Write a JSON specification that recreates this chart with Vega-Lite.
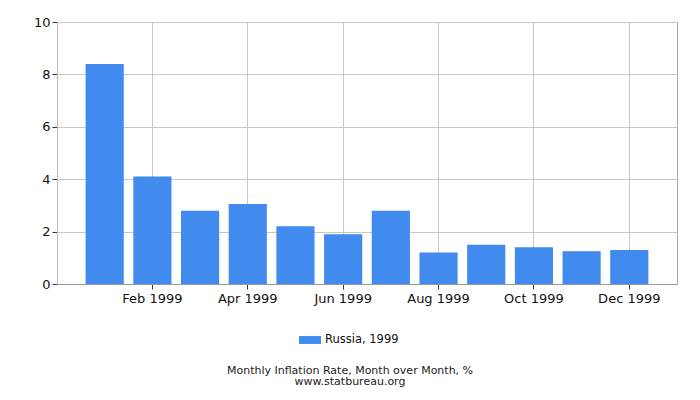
{
  "$schema": "https://vega.github.io/schema/vega-lite/v6.json",
  "width": 620,
  "height": 262,
  "autosize": {"type": "none"},
  "padding": {"left": 57, "top": 22, "right": 23, "bottom": 116},
  "background": "white",
  "data": {
    "values": [
      {"month": "Jan 1999", "rate": 8.4, "series": "Russia, 1999"},
      {"month": "Feb 1999", "rate": 4.1, "series": "Russia, 1999"},
      {"month": "Mar 1999", "rate": 2.8, "series": "Russia, 1999"},
      {"month": "Apr 1999", "rate": 3.05, "series": "Russia, 1999"},
      {"month": "May 1999", "rate": 2.2, "series": "Russia, 1999"},
      {"month": "Jun 1999", "rate": 1.9, "series": "Russia, 1999"},
      {"month": "Jul 1999", "rate": 2.8, "series": "Russia, 1999"},
      {"month": "Aug 1999", "rate": 1.2, "series": "Russia, 1999"},
      {"month": "Sep 1999", "rate": 1.5, "series": "Russia, 1999"},
      {"month": "Oct 1999", "rate": 1.4, "series": "Russia, 1999"},
      {"month": "Nov 1999", "rate": 1.25, "series": "Russia, 1999"},
      {"month": "Dec 1999", "rate": 1.3, "series": "Russia, 1999"}
    ]
  },
  "title": {
    "text": ["Monthly Inflation Rate, Month over Month, %", "www.statbureau.org"],
    "orient": "bottom",
    "anchor": "middle",
    "fontSize": 11,
    "fontWeight": "normal",
    "font": "DejaVu Sans",
    "color": "#222222",
    "lineHeight": 11,
    "offset": 19,
    "dx": -17
  },
  "mark": {"type": "bar"},
  "encoding": {
    "x": {
      "field": "month",
      "type": "nominal",
      "sort": null,
      "title": null,
      "scale": {"paddingInner": 0.2, "paddingOuter": 0.6},
      "axis": {
        "values": ["Feb 1999", "Apr 1999", "Jun 1999", "Aug 1999", "Oct 1999", "Dec 1999"],
        "bandPosition": 0.5,
        "labelAngle": 0,
        "grid": true,
        "gridColor": "#c8c8c8",
        "domainColor": "#999999",
        "tickColor": "#333333",
        "tickSize": 5,
        "labelFontSize": 13,
        "labelColor": "#111111",
        "labelPadding": 3
      }
    },
    "y": {
      "field": "rate",
      "type": "quantitative",
      "title": null,
      "scale": {"domain": [0, 10]},
      "axis": {
        "values": [0, 2, 4, 6, 8, 10],
        "grid": true,
        "gridColor": "#c8c8c8",
        "domainColor": "#bbbbbb",
        "tickColor": "#333333",
        "tickSize": 5,
        "labelFontSize": 13,
        "labelColor": "#111111",
        "labelPadding": 2
      }
    },
    "color": {
      "field": "series",
      "type": "nominal",
      "scale": {"range": ["#418bee"]},
      "legend": {
        "title": null,
        "orient": "none",
        "legendX": 242,
        "legendY": 307,
        "symbolType": "M-1,-0.36L1,-0.36L1,0.36L-1,0.36Z",
        "symbolSize": 484,
        "symbolStrokeWidth": 0,
        "labelFontSize": 11.5,
        "labelColor": "#111111"
      }
    }
  },
  "config": {
    "font": "DejaVu Sans",
    "view": {"stroke": "#aaaaaa"},
    "axis": {"labelFont": "DejaVu Sans"},
    "legend": {"labelFont": "DejaVu Sans"}
  }
}
